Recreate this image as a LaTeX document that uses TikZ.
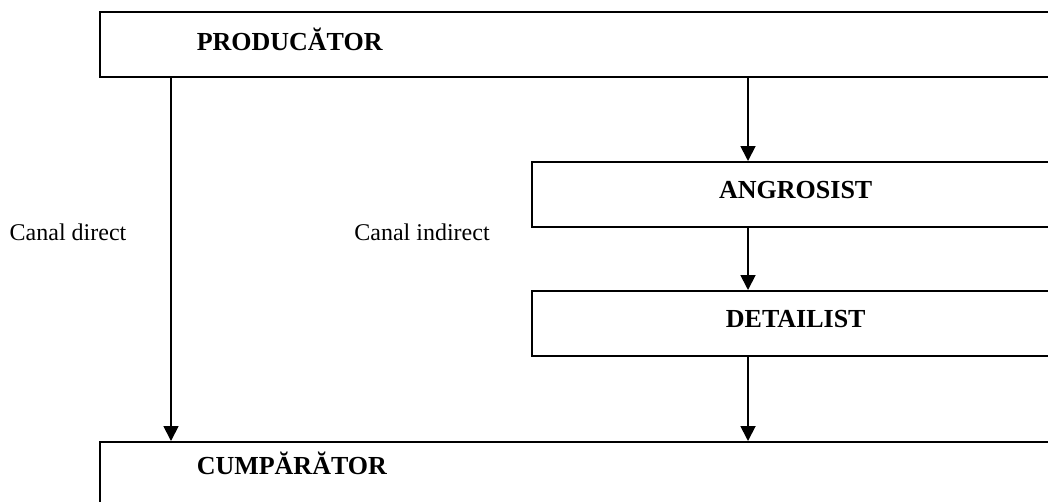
\documentclass[tikz,border=0pt]{standalone}
\usepackage{fontspec}
\setmainfont{Liberation Serif}
\usetikzlibrary{arrows.meta}

\tikzset{
  box/.style={draw, line width=1.5pt, rectangle, anchor=north west,
    minimum height=65pt, inner sep=0pt,
    font=\bfseries\fontsize{26}{30}\selectfont},
  arr/.style={line width=1.8pt, -{Triangle[length=15pt,width=15pt]}},
  lbl/.style={font=\fontsize{24}{28}\selectfont}
}

\begin{document}
\begin{tikzpicture}[x=1pt,y=-1pt]
            \useasboundingbox (0,0) rectangle (1048,501);

            \node[box, minimum width=960pt, text width=766pt, align=left,
                  text height=20pt, text depth=7.5pt] (prod) at (99,11){PRODUC\u{A}TOR};

            \node[box, minimum width=528pt, text height=17.5pt, text depth=10pt] (ang) at (531,161){ANGROSIST};
            \node[box, minimum width=528pt, text height=17.5pt, text depth=10pt] (det) at (531,290){DETAILIST};

            \node[box, minimum width=960pt, text width=766pt, align=left,
                  text height=12pt, text depth=11.5pt] (cump) at (99,441){CUMP\u{A}R\u{A}TOR};

            \node[lbl] (direct) at (68,232){Canal direct};
            \node[lbl] (indirect) at (422,232){Canal indirect};

            \draw[arr] ([xshift=72pt]prod.south west)--([xshift=72pt]cump.north west);
            \draw[arr] ([xshift=217pt]ang.north west |- prod.south)--([xshift=217pt]ang.north west);
            \draw[arr] ([xshift=217pt]ang.south west)--([xshift=217pt]det.north west);
            \draw[arr] ([xshift=217pt]det.south west)--([xshift=217pt]det.south west |- cump.north);
\end{tikzpicture}
\end{document}
